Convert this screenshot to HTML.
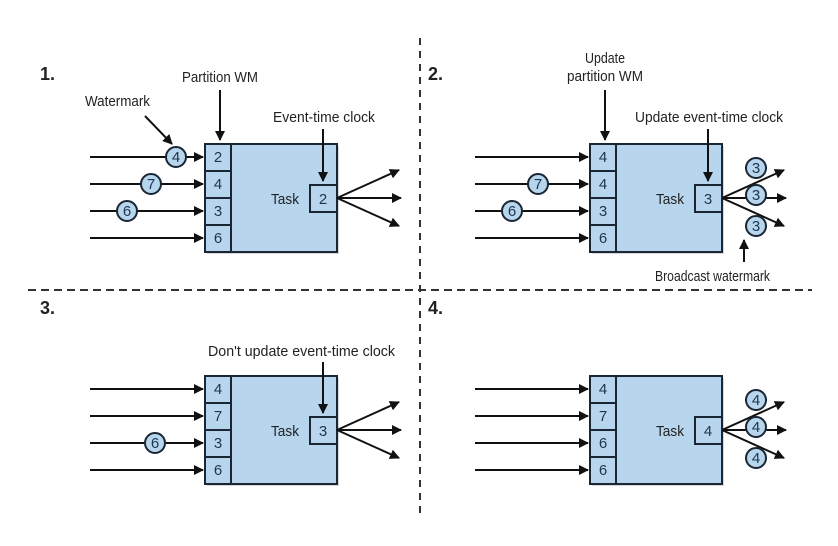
<!DOCTYPE html>
<html><head><meta charset="utf-8"><style>
html,body{margin:0;padding:0;background:#fff;}
svg{display:block}
text{font-family:"Liberation Sans Narrow","Liberation Sans",sans-serif;fill:#222;}
.lbl{font-size:15px;}
.num{font-size:15px;text-anchor:middle;fill:#1c3550;}
.hd{font-size:18px;font-weight:bold;}
</style></head><body>
<svg width="838" height="546" viewBox="0 0 838 546" xmlns="http://www.w3.org/2000/svg">
<defs>
<marker id="a" markerWidth="10" markerHeight="10" refX="9" refY="5" orient="auto" markerUnits="userSpaceOnUse">
<path d="M0,0 L10,5 L0,10 z" fill="#111"/></marker>
<g id="taskbox">
<rect x="2" y="2" width="132" height="108" fill="#d8d8d8"/>
<rect x="0" y="0" width="132" height="108" fill="#b7d5ec" stroke="#1a2633" stroke-width="2"/>
<line x1="26" y1="0" x2="26" y2="108" stroke="#1a2633" stroke-width="2"/>
<line x1="0" y1="27" x2="26" y2="27" stroke="#1a2633" stroke-width="2"/>
<line x1="0" y1="54" x2="26" y2="54" stroke="#1a2633" stroke-width="2"/>
<line x1="0" y1="81" x2="26" y2="81" stroke="#1a2633" stroke-width="2"/>
<rect x="105" y="41" width="27" height="27" fill="#b7d5ec" stroke="#1a2633" stroke-width="2"/>
<text x="80" y="60" class="lbl" text-anchor="middle" textLength="28" lengthAdjust="spacingAndGlyphs">Task</text>
<g stroke="#111" stroke-width="2" marker-end="url(#a)">
<line x1="-115" y1="13" x2="-2" y2="13"/>
<line x1="-115" y1="40" x2="-2" y2="40"/>
<line x1="-115" y1="67" x2="-2" y2="67"/>
<line x1="-115" y1="94" x2="-2" y2="94"/>
<line x1="132" y1="54" x2="194" y2="26"/>
<line x1="132" y1="54" x2="196" y2="54"/>
<line x1="132" y1="54" x2="194" y2="82"/>
</g>
</g>
</defs>

<line x1="420" y1="38" x2="420" y2="515" stroke="#333" stroke-width="2" stroke-dasharray="7,6"/>
<line x1="28" y1="290" x2="812" y2="290" stroke="#333" stroke-width="2" stroke-dasharray="8,5"/>

<!-- Panel 1 -->
<text x="40" y="80" class="hd">1.</text>
<use href="#taskbox" x="205" y="144"/>
<text x="218" y="162" class="num">2</text><text x="218" y="189" class="num">4</text>
<text x="218" y="216" class="num">3</text><text x="218" y="243" class="num">6</text>
<text x="323" y="204" class="num">2</text>
<text x="182" y="82" class="lbl" textLength="76" lengthAdjust="spacingAndGlyphs">Partition WM</text>
<line x1="220" y1="90" x2="220" y2="140" stroke="#111" stroke-width="2" marker-end="url(#a)"/>
<text x="85" y="106" class="lbl" textLength="65" lengthAdjust="spacingAndGlyphs">Watermark</text>
<line x1="145" y1="116" x2="172" y2="144" stroke="#111" stroke-width="2" marker-end="url(#a)"/>
<text x="273" y="122" class="lbl" textLength="102" lengthAdjust="spacingAndGlyphs">Event-time clock</text>
<line x1="323" y1="129" x2="323" y2="181" stroke="#111" stroke-width="2" marker-end="url(#a)"/>
<g fill="#b7d5ec" stroke="#1a2633" stroke-width="2">
<circle cx="176" cy="157" r="10"/><circle cx="151" cy="184" r="10"/><circle cx="127" cy="211" r="10"/></g>
<text x="176" y="162" class="num">4</text><text x="151" y="189" class="num">7</text><text x="127" y="216" class="num">6</text>

<!-- Panel 2 -->
<text x="428" y="80" class="hd">2.</text>
<use href="#taskbox" x="590" y="144"/>
<text x="603" y="162" class="num">4</text><text x="603" y="189" class="num">4</text>
<text x="603" y="216" class="num">3</text><text x="603" y="243" class="num">6</text>
<text x="708" y="204" class="num">3</text>
<text x="585" y="63" class="lbl" textLength="40" lengthAdjust="spacingAndGlyphs">Update</text>
<text x="567" y="81" class="lbl" textLength="76" lengthAdjust="spacingAndGlyphs">partition WM</text>
<line x1="605" y1="90" x2="605" y2="140" stroke="#111" stroke-width="2" marker-end="url(#a)"/>
<text x="635" y="122" class="lbl" textLength="148" lengthAdjust="spacingAndGlyphs">Update event-time clock</text>
<line x1="708" y1="129" x2="708" y2="181" stroke="#111" stroke-width="2" marker-end="url(#a)"/>
<g fill="#b7d5ec" stroke="#1a2633" stroke-width="2">
<circle cx="538" cy="184" r="10"/><circle cx="512" cy="211" r="10"/>
<circle cx="756" cy="168" r="10"/><circle cx="756" cy="195" r="10"/><circle cx="756" cy="226" r="10"/></g>
<text x="538" y="189" class="num">7</text><text x="512" y="216" class="num">6</text>
<text x="756" y="173" class="num">3</text><text x="756" y="200" class="num">3</text><text x="756" y="231" class="num">3</text>
<line x1="744" y1="262" x2="744" y2="240" stroke="#111" stroke-width="2" marker-end="url(#a)"/>
<text x="655" y="281" class="lbl" textLength="115" lengthAdjust="spacingAndGlyphs">Broadcast watermark</text>

<!-- Panel 3 -->
<text x="40" y="314" class="hd">3.</text>
<use href="#taskbox" x="205" y="376"/>
<text x="218" y="394" class="num">4</text><text x="218" y="421" class="num">7</text>
<text x="218" y="448" class="num">3</text><text x="218" y="475" class="num">6</text>
<text x="323" y="436" class="num">3</text>
<text x="208" y="356" class="lbl" textLength="187" lengthAdjust="spacingAndGlyphs">Don't update event-time clock</text>
<line x1="323" y1="362" x2="323" y2="413" stroke="#111" stroke-width="2" marker-end="url(#a)"/>
<circle cx="155" cy="443" r="10" fill="#b7d5ec" stroke="#1a2633" stroke-width="2"/>
<text x="155" y="448" class="num">6</text>

<!-- Panel 4 -->
<text x="428" y="314" class="hd">4.</text>
<use href="#taskbox" x="590" y="376"/>
<text x="603" y="394" class="num">4</text><text x="603" y="421" class="num">7</text>
<text x="603" y="448" class="num">6</text><text x="603" y="475" class="num">6</text>
<text x="708" y="436" class="num">4</text>
<g fill="#b7d5ec" stroke="#1a2633" stroke-width="2">
<circle cx="756" cy="400" r="10"/><circle cx="756" cy="427" r="10"/><circle cx="756" cy="458" r="10"/></g>
<text x="756" y="405" class="num">4</text><text x="756" y="432" class="num">4</text><text x="756" y="463" class="num">4</text>
</svg>
</body></html>
